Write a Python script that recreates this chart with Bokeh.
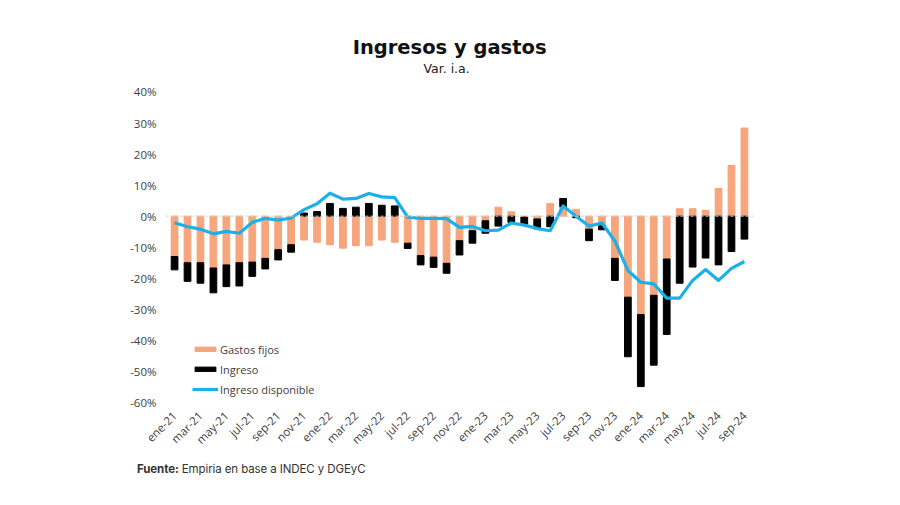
import math
from bokeh.plotting import figure
from bokeh.layouts import column
from bokeh.models import (Range1d, FixedTicker, Span, Label, Legend, LegendItem,
                          ColumnDataSource, Div)
from bokeh.embed import file_html
from bokeh.resources import INLINE

months = ["ene-21", "feb-21", "mar-21", "abr-21", "may-21", "jun-21", "jul-21", "ago-21",
          "sep-21", "oct-21", "nov-21", "dic-21",
          "ene-22", "feb-22", "mar-22", "abr-22", "may-22", "jun-22", "jul-22", "ago-22",
          "sep-22", "oct-22", "nov-22", "dic-22",
          "ene-23", "feb-23", "mar-23", "abr-23", "may-23", "jun-23", "jul-23", "ago-23",
          "sep-23", "oct-23", "nov-23", "dic-23",
          "ene-24", "feb-24", "mar-24", "abr-24", "may-24", "jun-24", "jul-24", "ago-24",
          "sep-24"]

gastos_fijos = [-13.0, -15.0, -15.0, -16.7, -15.7, -15.0, -14.8, -13.6, -10.8, -9.2, -7.7, -8.4,
                -9.2, -10.3, -9.5, -9.5, -7.7, -8.4, -8.7, -12.7, -13.2, -15.2, -7.9, -4.7,
                -1.5, 2.9, 1.4, -0.3, -0.9, 4.1, 3.1, 2.2, -4.2, -3.1, -13.6, -26.1,
                -31.7, -25.5, -13.8, 2.4, 2.4, 1.9, 8.9, 16.3, 28.4]

ingreso = [-4.3, -6.0, -6.6, -8.0, -7.0, -7.5, -4.6, -3.4, -3.3, -2.4, 1.0, 1.5,
           4.1, 2.5, 2.9, 4.1, 3.5, 3.3, -1.7, -3.0, -3.3, -3.2, -4.6, -4.0,
           -4.0, -3.2, -2.0, -2.3, -3.2, -3.4, 2.6, -0.5, -3.7, -1.3, -7.1, -19.2,
           -23.2, -22.5, -24.3, -21.6, -16.4, -13.5, -15.7, -11.4, -7.4]

ingreso_disponible = [-2.1, -3.4, -4.2, -5.7, -4.9, -5.5, -2.0, -0.7, -1.3, -0.6, 2.1, 4.0,
                      7.4, 5.5, 5.7, 7.3, 6.2, 6.0, -0.3, -0.7, -0.7, -0.8, -3.6, -3.3,
                      -4.7, -4.5, -2.2, -2.9, -4.0, -4.7, 3.3, 0.0, -3.2, -2.2, -8.0, -17.5,
                      -21.3, -21.8, -26.4, -26.4, -20.7, -17.2, -20.7, -16.8, -14.6]

y_ticks = [40, 30, 20, 10, 0, -10, -20, -30, -40, -50, -60]

ORANGE = "#F6A57D"
BLACK = "#000000"
BLUE = "#1CB0E8"
GREY_TXT = "#404040"

idx = list(range(len(months)))
# stacked columns (Excel style: positives stack up, negatives stack down)
g_bottom, g_top, i_bottom, i_top = [], [], [], []
for g, b in zip(gastos_fijos, ingreso):
    g_bottom.append(0.0)
    g_top.append(g)
    if (g >= 0) == (b >= 0):
        i_bottom.append(g)
        i_top.append(g + b)
    else:
        i_bottom.append(0.0)
        i_top.append(b)

src = ColumnDataSource(dict(x=idx, gb=g_bottom, gt=g_top, ib=i_bottom, it=i_top,
                            line=ingreso_disponible))

p = figure(width=892, height=455, output_backend="svg", toolbar_location=None,
           x_range=Range1d(-0.7, 44.7), y_range=Range1d(-61, 58.2),
           min_border_left=165, min_border_right=139, min_border_top=35,
           min_border_bottom=48)
p.outline_line_color = None
p.xgrid.grid_line_color = None
p.ygrid.grid_line_color = None
p.background_fill_color = "white"
p.border_fill_color = "white"

p.add_layout(Span(location=0, dimension="width", line_color="#D0D0D0",
                  line_dash="3 2", line_width=1))

r_g = p.vbar(x="x", bottom="gb", top="gt", width=0.52, color=ORANGE, source=src)
r_i = p.vbar(x="x", bottom="ib", top="it", width=0.52, color=BLACK, source=src)
r_l = p.line(x="x", y="line", line_color=BLUE, line_width=3.2, line_join="round",
             source=src)

# axes
p.yaxis.ticker = FixedTicker(ticks=y_ticks)
p.yaxis.major_label_overrides = {t: f"{t}%" for t in y_ticks}
p.yaxis.axis_line_color = None
p.yaxis.major_tick_line_color = None
p.yaxis.minor_tick_line_color = None
p.yaxis.major_tick_out = 0
p.yaxis.major_tick_in = 0
p.yaxis.major_label_standoff = 9
p.yaxis.major_label_text_font = "Open Sans"
p.yaxis.major_label_text_font_size = "11.5px"
p.yaxis.major_label_text_color = GREY_TXT

xt = list(range(0, len(months), 2))
p.xaxis.ticker = FixedTicker(ticks=xt)
p.xaxis.major_label_overrides = {i: months[i] for i in xt}
p.xaxis.major_label_orientation = math.pi / 4
p.xaxis.axis_line_color = None
p.xaxis.major_tick_line_color = None
p.xaxis.minor_tick_line_color = None
p.xaxis.major_tick_out = 0
p.xaxis.major_tick_in = 0
p.xaxis.major_label_standoff = 8
p.xaxis.major_label_text_font = "Open Sans"
p.xaxis.major_label_text_font_size = "11.5px"
p.xaxis.major_label_text_color = GREY_TXT

legend = Legend(items=[LegendItem(label="Gastos fijos", renderers=[r_g]),
                       LegendItem(label="Ingreso", renderers=[r_i]),
                       LegendItem(label="Ingreso disponible", renderers=[r_l])],
                location=(27, 6), padding=0, margin=0, spacing=0,
                glyph_width=26, glyph_height=6, label_height=20,
                label_standoff=2,
                label_text_font="Open Sans", label_text_font_size="11px",
                label_text_color=GREY_TXT,
                background_fill_alpha=0, border_line_alpha=0)
p.add_layout(legend)

px_x = 12.95
px_y = 3.12


def dx(img_x):
    return (img_x - 174) / px_x


def dy(img_y):
    return (217 - img_y) / px_y


p.add_layout(Label(x=dx(449), y=dy(47), text="Ingresos y gastos", text_align="center",
                   text_baseline="middle", text_font="DejaVu Sans", text_font_style="bold",
                   text_font_size="19.5px", text_color="#111111"))
p.add_layout(Label(x=dx(446), y=dy(69), text="Var. i.a.", text_align="center",
                   text_baseline="middle", text_font="DejaVu Sans",
                   text_font_size="12.5px", text_color="#222222"))

# source line below the chart
source_div = Div(
    text="<b>Fuente:</b> Empiria en base a INDEC y DGEyC",
    width=892, height=42,
    styles={"font-family": "Inter", "font-size": "11.5px", "color": "#333333",
            "padding-left": "132px", "padding-top": "2px", "line-height": "14px",
            "letter-spacing": "-0.1px"},
)

layout = column(p, source_div, spacing=0)
open("out.html", "w").write(file_html(layout, INLINE))
